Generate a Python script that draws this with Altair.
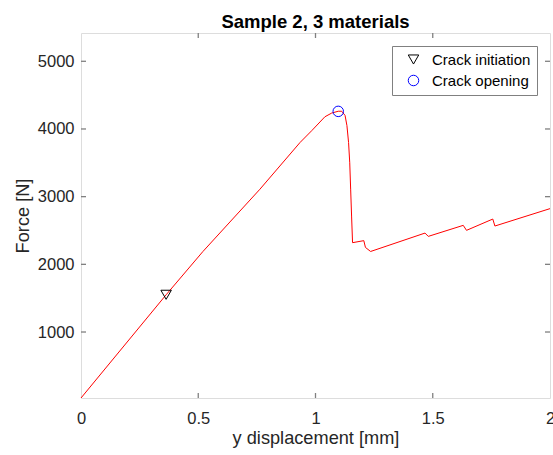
import altair as alt
import pandas as pd

# Force-displacement curve of sample 2
disp = [0.0, 0.363, 0.52, 0.763, 0.934, 0.984, 1.04, 1.069, 1.097, 1.112,
        1.126, 1.134, 1.141, 1.146, 1.150, 1.154, 1.158, 1.206, 1.213, 1.235,
        1.467, 1.481, 1.630, 1.644, 1.756, 1.765, 2.0]
force = [25, 1550, 2190, 3110, 3800, 3975, 4180, 4235, 4262, 4262,
         4200, 4050, 3800, 3500, 3100, 2700, 2320, 2350, 2250, 2190,
         2462, 2413, 2576, 2502, 2669, 2566, 2823]

# Marked events
events = ["Crack initiation", "Crack opening"]
event_disp = [0.363, 1.097]
event_force = [1550, 4260]
event_shapes = ["triangle-down", "circle"]
event_colors = ["black", "blue"]

x_ticks = [0, 0.5, 1, 1.5, 2]
y_ticks = [1000, 2000, 3000, 4000, 5000]

FONT = "Liberation Sans"
AXIS_GRAY = "#808080"
TEXT = "#262626"
W, H = 469, 365

curve = pd.DataFrame({"d": disp, "f": force})
marks = pd.DataFrame({"event": events, "d": event_disp, "f": event_force})
xt = pd.DataFrame({"v": x_ticks[1:-1]})
yt = pd.DataFrame({"v": y_ticks})

xs = alt.Scale(domain=[0, 2], nice=False, zero=False)
ys = alt.Scale(domain=[25, 5418], nice=False, zero=False)

x_axis = alt.Axis(values=x_ticks, format="~g", ticks=False, tickSize=0, domain=False,
                  grid=False, labelFlush=False, labelOverlap=False, labelPadding=12,
                  labelFontSize=16.5, labelFont=FONT,
                  labelColor=TEXT, title="y displacement [mm]", titleFont=FONT,
                  titleFontSize=18.2, titleFontWeight="normal", titleColor=TEXT,
                  titlePadding=3)
y_axis = alt.Axis(values=y_ticks, format="d", ticks=False, tickSize=0, domain=False,
                  grid=False, labelFlush=False, labelPadding=7, labelFontSize=16.5,
                  labelFont=FONT,
                  labelColor=TEXT, title="Force [N]", titleFont=FONT,
                  titleFontSize=18.2, titleFontWeight="normal", titleColor=TEXT,
                  titlePadding=5)

line = alt.Chart(curve).mark_line(color="#ff0000", strokeWidth=1).encode(
    x=alt.X("d:Q", scale=xs, axis=x_axis),
    y=alt.Y("f:Q", scale=ys, axis=y_axis),
    order="d:Q",
)

points = alt.Chart(marks).mark_point(filled=False, size=110, strokeWidth=1, opacity=1).encode(
    x=alt.X("d:Q", scale=xs),
    y=alt.Y("f:Q", scale=ys),
    shape=alt.Shape("event:N", scale=alt.Scale(domain=events, range=event_shapes),
                    legend=alt.Legend(title=None, orient="none", legendX=311, legendY=13,
                                      labelFont=FONT, labelFontSize=15, labelColor="black",
                                      symbolSize=110, symbolStrokeWidth=1,
                                      symbolFillColor="transparent",
                                      padding=6, rowPadding=5, labelOffset=11,
                                      symbolOffset=8,
                                      strokeColor=AXIS_GRAY, fillColor="white")),
    stroke=alt.Stroke("event:N", scale=alt.Scale(domain=events, range=event_colors),
                      legend=alt.Legend(title=None, orient="none", legendX=311, legendY=13)),
)

# Inward ticks on all four sides of the box
tick_style = dict(color=AXIS_GRAY, strokeWidth=1.3)
bottom_ticks = alt.Chart(xt).mark_rule(**tick_style).encode(
    x=alt.X("v:Q", scale=xs), y=alt.value(H), y2=alt.value(H - 5))
top_ticks = alt.Chart(xt).mark_rule(**tick_style).encode(
    x=alt.X("v:Q", scale=xs), y=alt.value(0), y2=alt.value(5))
left_ticks = alt.Chart(yt).mark_rule(**tick_style).encode(
    y=alt.Y("v:Q", scale=ys), x=alt.value(0), x2=alt.value(5))
right_ticks = alt.Chart(yt).mark_rule(**tick_style).encode(
    y=alt.Y("v:Q", scale=ys), x=alt.value(W), x2=alt.value(W - 5))

chart = alt.layer(bottom_ticks, top_ticks, left_ticks, right_ticks, line, points).properties(
    width=W, height=H,
    title=alt.TitleParams("Sample 2, 3 materials", font=FONT, fontSize=18.5,
                          fontWeight="bold", color="black", anchor="middle",
                          frame="group", baseline="alphabetic", offset=6.5, dy=21),
    autosize=alt.AutoSizeParams(type="none"),
    padding={"left": 81, "top": 33, "right": 3, "bottom": 57},
).configure_view(stroke=AXIS_GRAY, strokeWidth=1.3).configure(background="white")

chart.save("out.html", embed_options={"renderer": "svg", "actions": False})
